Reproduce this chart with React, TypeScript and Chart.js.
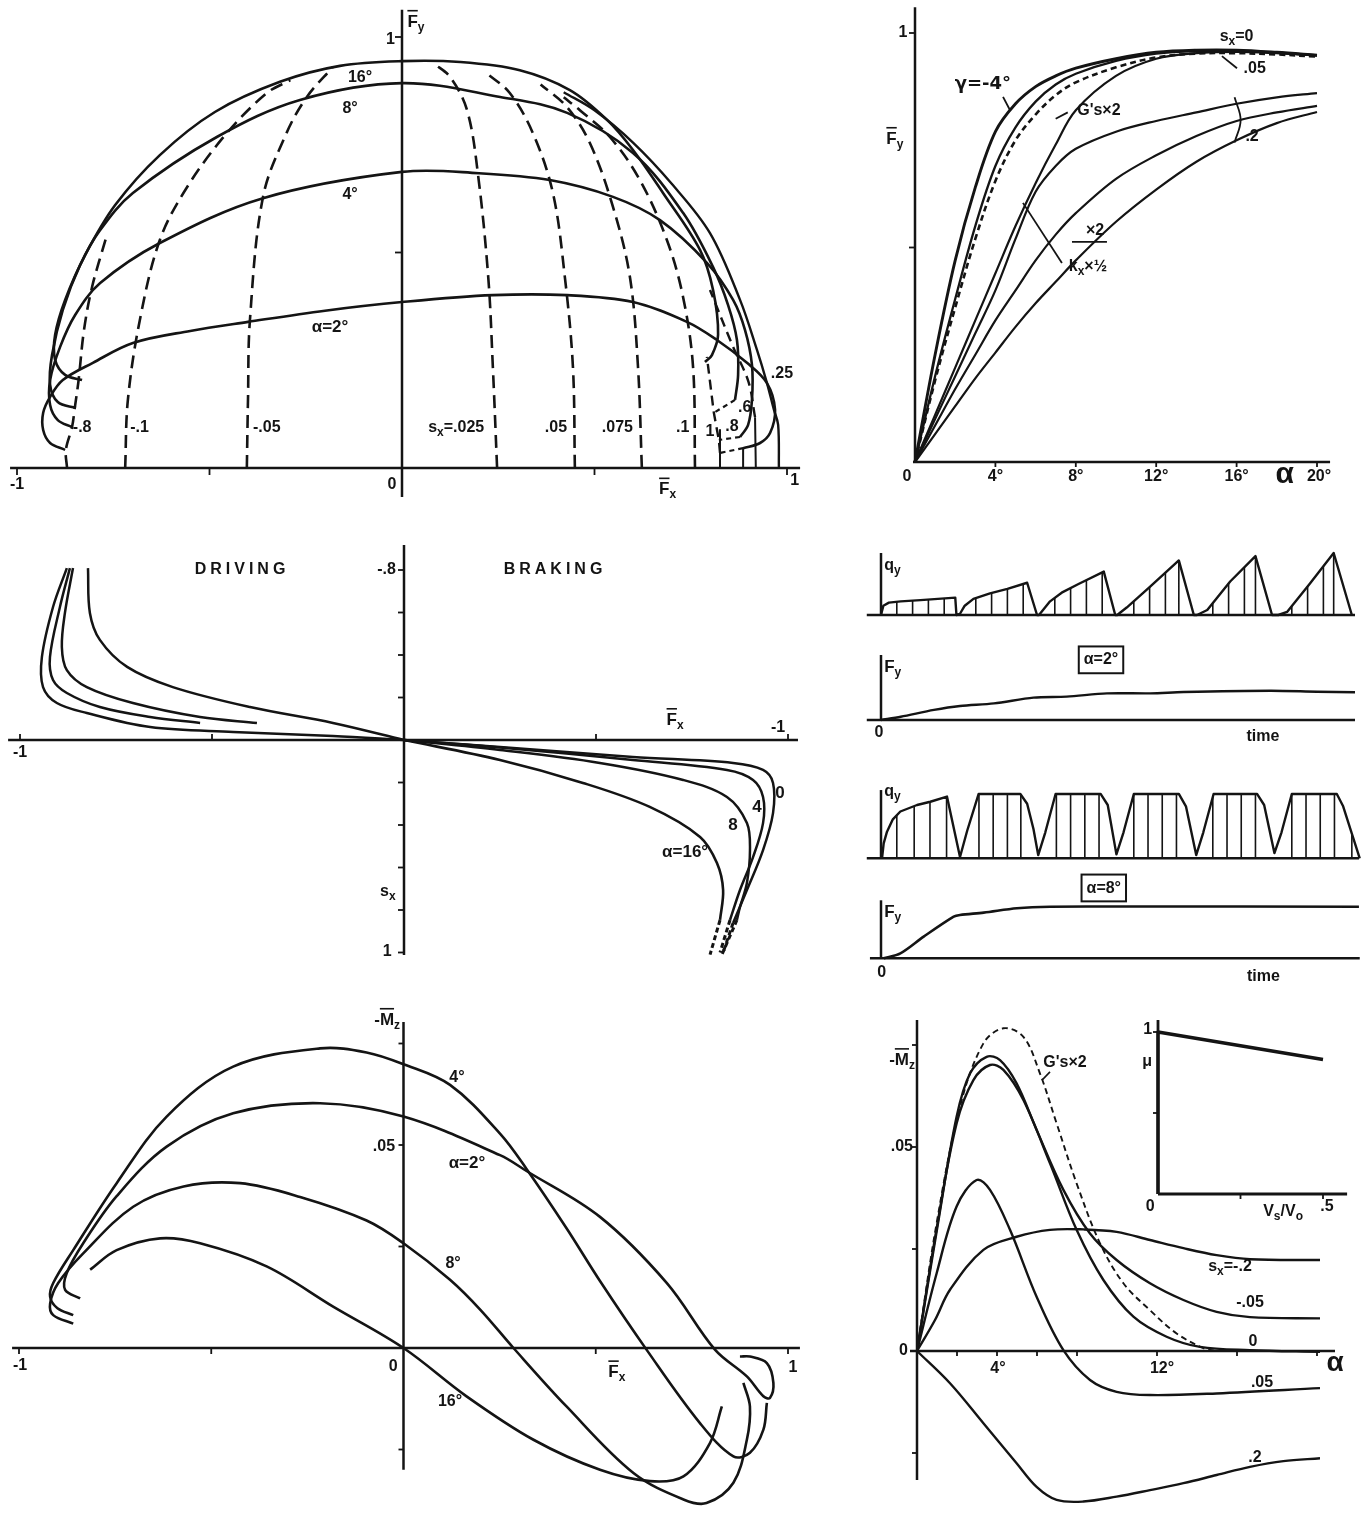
import React, { useEffect, useRef } from "react";
import { Chart, registerables } from "chart.js";

Chart.register(...registerables);

const INK = "#141414";
const FONT = '"Liberation Sans", "DejaVu Sans", Arial, sans-serif';
const GREEK_FONT = '"DejaVu Sans", "Liberation Sans", sans-serif';

type XY = [number, number];
type Pt = { x: number; y: number | null };

// ---------- Fy vs Fx map for constant slip angle (solid) and constant slip (dashed) ----------
const mapAlpha16: XY[] = [[-0.831, 0.204], [-0.875, 0.216], [-0.901, 0.251], [-0.901, 0.309], [-0.875, 0.39], [-0.823, 0.494], [-0.745, 0.61], [-0.629, 0.726], [-0.486, 0.826], [-0.317, 0.896], [-0.161, 0.933], [0, 0.944], [0.151, 0.942], [0.306, 0.923], [0.436, 0.877], [0.53, 0.81], [0.6, 0.738], [0.678, 0.638], [0.774, 0.506], [0.808, 0.413], [0.821, 0.309], [0.805, 0.262], [0.787, 0.246]];
const mapAlpha8: XY[] = [[-0.847, 0.139], [-0.894, 0.153], [-0.914, 0.193], [-0.909, 0.262], [-0.881, 0.367], [-0.836, 0.471], [-0.784, 0.552], [-0.699, 0.638], [-0.481, 0.768], [-0.265, 0.854], [0, 0.893], [0.255, 0.861], [0.429, 0.824], [0.6, 0.731], [0.73, 0.592], [0.808, 0.466], [0.847, 0.378], [0.87, 0.297], [0.873, 0.216], [0.865, 0.158]];
const mapAlpha4: XY[] = [[-0.857, 0.095], [-0.894, 0.111], [-0.914, 0.146], [-0.914, 0.204], [-0.888, 0.281], [-0.849, 0.355], [-0.784, 0.429], [-0.629, 0.522], [-0.361, 0.626], [0, 0.687], [0.2, 0.684], [0.384, 0.668], [0.548, 0.629], [0.67, 0.575], [0.792, 0.476], [0.86, 0.39], [0.891, 0.32], [0.909, 0.239], [0.909, 0.158], [0.899, 0.1], [0.878, 0.072]];
const mapAlpha2: XY[] = [[-0.875, 0.042], [-0.914, 0.058], [-0.932, 0.088], [-0.932, 0.128], [-0.914, 0.165], [-0.881, 0.204], [-0.803, 0.244], [-0.699, 0.29], [-0.55, 0.318], [-0.4, 0.339], [-0.2, 0.365], [0, 0.385], [0.236, 0.401], [0.429, 0.401], [0.6, 0.385], [0.74, 0.339], [0.818, 0.297], [0.896, 0.244], [0.948, 0.197], [0.969, 0.135], [0.956, 0.081], [0.93, 0.058], [0.886, 0.046]];
const mapSlipPeak: XY[] = [[0.979, 0], [0.977, 0.1], [0.966, 0.135], [0.948, 0.197], [0.922, 0.274], [0.878, 0.39], [0.8, 0.545], [0.7, 0.66], [0.6, 0.755], [0.5, 0.83], [0.42, 0.872]];
const mapSlipM08: XY[] = [[-0.87, 0], [-0.873, 0.042], [-0.857, 0.095], [-0.85, 0.139], [-0.84, 0.204], [-0.826, 0.32], [-0.805, 0.42], [-0.77, 0.53]];
const mapSlipM01: XY[] = [[-0.719, 0], [-0.712, 0.158], [-0.681, 0.343], [-0.629, 0.529], [-0.558, 0.652], [-0.455, 0.777], [-0.351, 0.87], [-0.29, 0.9]];
const mapSlipM005: XY[] = [[-0.403, 0], [-0.4, 0.16], [-0.395, 0.343], [-0.361, 0.629], [-0.3, 0.777], [-0.247, 0.861], [-0.18, 0.93]];
const mapSlip0025: XY[] = [[0.247, 0], [0.236, 0.234], [0.224, 0.443], [0.197, 0.684], [0.169, 0.83], [0.125, 0.907], [0.08, 0.94]];
const mapSlip005: XY[] = [[0.449, 0], [0.444, 0.234], [0.423, 0.443], [0.392, 0.638], [0.34, 0.777], [0.28, 0.87], [0.22, 0.916]];
const mapSlip0075: XY[] = [[0.623, 0], [0.613, 0.234], [0.592, 0.443], [0.548, 0.606], [0.488, 0.754], [0.428, 0.838], [0.36, 0.89]];
const mapSlip01: XY[] = [[0.761, 0], [0.756, 0.234], [0.73, 0.397], [0.688, 0.529], [0.618, 0.668], [0.54, 0.768], [0.462, 0.83], [0.42, 0.86]];
const mapSlip06Base: XY[] = [[0.919, 0], [0.917, 0.118]];
const mapSlip06: XY[] = [[0.917, 0.118], [0.9, 0.2], [0.86, 0.281], [0.8, 0.413]];
const mapSlip08Base: XY[] = [[0.886, 0], [0.886, 0.046]];
const mapSlip1Base: XY[] = [[0.826, 0], [0.826, 0.09]];
const mapSlip1: XY[] = [[0.826, 0.035], [0.823, 0.065], [0.81, 0.128], [0.792, 0.258]];
const mapLockExt2: XY[] = [[0.886, 0.046], [0.826, 0.035]];
const mapLockExt4: XY[] = [[0.878, 0.072], [0.823, 0.065]];
const mapLockExt8: XY[] = [[0.865, 0.158], [0.81, 0.128]];

// ---------- Fy vs slip angle ----------
const alphaDeg = [0, 1, 2, 3, 4, 5, 6, 7, 8, 10, 12, 14, 16, 18, 20];
const fyCamberNeg4 = [0, 0.25, 0.47, 0.64, 0.77, 0.835, 0.875, 0.9, 0.918, 0.94, 0.955, 0.96, 0.96, 0.955, 0.948];
const fySlip0 = [0, 0.2, 0.38, 0.55, 0.69, 0.78, 0.84, 0.88, 0.905, 0.935, 0.952, 0.958, 0.958, 0.954, 0.948];
const fySlip005 = [0, 0.19, 0.36, 0.52, 0.655, 0.75, 0.81, 0.855, 0.885, 0.92, 0.943, 0.952, 0.953, 0.95, 0.945];
const fyStiffDouble = [0, 0.11, 0.22, 0.33, 0.44, 0.55, 0.65, 0.74, 0.82, 0.9, 0.94, 0.953, 0.956, 0.953, 0.948];
const fySlip02KxHalf = [0, 0.1, 0.2, 0.3, 0.4, 0.52, 0.63, 0.69, 0.73, 0.77, 0.795, 0.815, 0.835, 0.85, 0.86];
const fySlip02KxDouble = [0, 0.085, 0.17, 0.25, 0.33, 0.4, 0.47, 0.53, 0.58, 0.66, 0.715, 0.76, 0.795, 0.815, 0.83];
const fySlip02 = [0, 0.065, 0.13, 0.195, 0.255, 0.315, 0.37, 0.42, 0.47, 0.56, 0.635, 0.7, 0.75, 0.79, 0.816];
const fyLeaderCamber: XY[] = [[4.38, 0.851], [4.73, 0.82]];
const fyLeaderStiff: XY[] = [[7.0, 0.8], [7.6, 0.815]];
const fyLeaderKxHalf: XY[] = [[5.37, 0.604], [7.31, 0.464]];
const fyLeaderKxDouble: XY[] = [[7.81, 0.513], [9.55, 0.513]];
const fyLeaderSlip005: XY[] = [[15.27, 0.946], [16.02, 0.918]];
const fyBracketSlip02: XY[] = [[15.9, 0.85], [16.2, 0.797], [15.9, 0.745]];

// ---------- slip vs Fx, driving and braking ----------
const driveOuter: XY[] = [[-0.878, -0.809], [-0.914, -0.626], [-0.943, -0.39], [-0.94, -0.249], [-0.904, -0.174], [-0.826, -0.127], [-0.661, -0.061], [-0.445, -0.038], [-0.185, -0.019], [0, 0]];
const driveSecond: XY[] = [[-0.87, -0.809], [-0.896, -0.626], [-0.922, -0.39], [-0.914, -0.282], [-0.878, -0.221], [-0.792, -0.155], [-0.661, -0.108], [-0.531, -0.08]];
const driveThird: XY[] = [[-0.862, -0.809], [-0.883, -0.598], [-0.891, -0.438], [-0.878, -0.329], [-0.826, -0.249], [-0.706, -0.174], [-0.531, -0.108], [-0.383, -0.08]];
const driveInner: XY[] = [[-0.823, -0.809], [-0.818, -0.598], [-0.792, -0.471], [-0.721, -0.344], [-0.602, -0.249], [-0.401, -0.155], [-0.185, -0.08], [0, 0]];
const brakeAlpha0: XY[] = [[0, 0], [0.25, 0.033], [0.596, 0.08], [0.857, 0.108], [0.935, 0.141], [0.961, 0.202], [0.961, 0.344], [0.935, 0.518], [0.893, 0.706], [0.857, 0.861]];
const brakeAlpha4: XY[] = [[0, 0], [0.25, 0.035], [0.596, 0.094], [0.841, 0.141], [0.909, 0.188], [0.935, 0.268], [0.935, 0.391], [0.909, 0.551], [0.875, 0.706], [0.849, 0.847]];
const brakeAlpha8: XY[] = [[0, 0], [0.25, 0.047], [0.51, 0.108], [0.727, 0.188], [0.841, 0.268], [0.893, 0.391], [0.901, 0.518], [0.893, 0.673], [0.875, 0.786], [0.867, 0.847]];
const brakeAlpha16: XY[] = [[0, 0], [0.25, 0.094], [0.466, 0.202], [0.64, 0.315], [0.771, 0.456], [0.815, 0.579], [0.831, 0.706], [0.823, 0.847]];
const brakeTail0: XY[] = [[0.857, 0.861], [0.831, 1.0]];
const brakeTail4: XY[] = [[0.849, 0.847], [0.823, 1.0]];
const brakeTail8: XY[] = [[0.867, 0.847], [0.828, 1.01]];
const brakeTail16: XY[] = [[0.823, 0.847], [0.797, 1.01]];

// ---------- contact-patch load qy and lateral force build-up over time ----------
const q2Time = [0, 0.03, 0.1, 0.25, 0.5, 0.94, 0.955, 1.0, 1.06, 1.17, 1.38, 1.6, 1.85, 1.975, 2.0, 2.14, 2.3, 2.5, 2.82, 2.965, 2.99, 3.11, 3.4, 3.77, 3.96, 4.0, 4.13, 4.42, 4.74, 4.95, 5.03, 5.14, 5.43, 5.73, 5.96];
const q2Load = [0, 0.15, 0.2, 0.22, 0.24, 0.28, 0, 0.02, 0.15, 0.26, 0.35, 0.42, 0.52, 0, 0, 0.22, 0.37, 0.5, 0.7, 0, 0, 0.12, 0.45, 0.88, 0, 0, 0.08, 0.54, 0.95, 0, 0, 0.05, 0.51, 1.0, 0];
const q2Rulings = [0.2, 0.4, 0.6, 0.8, 1.2, 1.4, 1.6, 1.8, 2.2, 2.4, 2.6, 2.8, 3.2, 3.4, 3.6, 3.77, 4.2, 4.4, 4.6, 4.74, 5.2, 5.4, 5.6, 5.73];
const fy2Time = [0, 0.25, 0.67, 1.0, 1.43, 1.93, 2.35, 2.86, 3.41, 3.83, 4.93, 5.52, 6.0];
const fy2Force = [0, 0.05, 0.155, 0.215, 0.255, 0.345, 0.36, 0.41, 0.41, 0.43, 0.45, 0.435, 0.427];
const q8Time = [0.013, 0.034, 0.076, 0.15, 0.245, 0.456, 0.624, 0.835, 1.0, 1.09, 1.236, 1.764, 1.85, 1.93, 1.99, 2.08, 2.21, 2.78, 2.87, 2.98, 3.07, 3.2, 3.77, 3.86, 3.99, 4.08, 4.21, 4.76, 4.85, 4.98, 5.07, 5.2, 5.77, 5.85, 6.06];
const q8Load = [0, 0.23, 0.41, 0.6, 0.72, 0.82, 0.87, 0.95, 0.02, 0.42, 0.99, 0.99, 0.84, 0.45, 0.05, 0.4, 0.99, 0.99, 0.82, 0.06, 0.4, 0.99, 0.99, 0.8, 0.05, 0.4, 0.99, 0.99, 0.82, 0.08, 0.4, 0.99, 0.99, 0.8, 0];
const q8Rulings = [0.2, 0.42, 0.62, 0.83, 1.24, 1.42, 1.6, 1.77, 2.22, 2.4, 2.58, 2.76, 3.2, 3.38, 3.56, 3.74, 4.2, 4.38, 4.56, 4.74, 5.2, 5.38, 5.56, 5.74, 5.96];
const fy8Time = [0.034, 0.245, 0.54, 0.92, 1.0, 1.3, 1.72, 2.14, 3.0, 6.05];
const fy8Force = [0, 0.086, 0.374, 0.718, 0.747, 0.787, 0.862, 0.89, 0.893, 0.89];

// ---------- aligning moment vs Fx ----------
const mzAlpha4: XY[] = [[-0.859, 0.0081], [-0.9, 0.0098], [-0.919, 0.0126], [-0.911, 0.016], [-0.859, 0.0241], [-0.746, 0.0406], [-0.616, 0.057], [-0.443, 0.0693], [-0.217, 0.0738], [-0.096, 0.0728], [0, 0.0699], [0.121, 0.0648], [0.251, 0.0528], [0.32, 0.0441], [0.424, 0.0295], [0.511, 0.0165], [0.632, -0.0004], [0.771, -0.0185], [0.858, -0.0267], [0.901, -0.0258], [0.936, -0.0201], [0.945, -0.0135]];
const mzAlpha2: XY[] = [[-0.841, 0.0122], [-0.88, 0.0143], [-0.876, 0.0184], [-0.833, 0.0258], [-0.746, 0.0374], [-0.616, 0.0496], [-0.443, 0.0578], [-0.217, 0.0603], [0, 0.057], [0.251, 0.0475], [0.32, 0.0436], [0.511, 0.0323], [0.685, 0.016], [0.81, -0.0004], [0.893, -0.007], [0.936, -0.0119], [0.953, -0.0123], [0.962, -0.0086], [0.945, -0.0037], [0.901, -0.0021], [0.875, -0.0021]];
const mzAlpha8: XY[] = [[-0.859, 0.006], [-0.911, 0.0081], [-0.919, 0.011], [-0.898, 0.016], [-0.833, 0.0233], [-0.703, 0.0348], [-0.572, 0.0398], [-0.425, 0.0406], [-0.269, 0.0372], [-0.096, 0.0314], [0, 0.0258], [0.121, 0.0168], [0.2, 0.0094], [0.286, 0], [0.424, -0.0144], [0.598, -0.0308], [0.728, -0.0373], [0.788, -0.0382], [0.858, -0.0332], [0.893, -0.0226], [0.901, -0.0144], [0.884, -0.0086]];
const mzAlpha16: XY[] = [[-0.815, 0.0193], [-0.746, 0.0241], [-0.633, 0.027], [-0.529, 0.0258], [-0.356, 0.0201], [-0.183, 0.0102], [0, 0], [0.164, -0.0119], [0.338, -0.0226], [0.511, -0.03], [0.641, -0.0328], [0.728, -0.0316], [0.797, -0.0234], [0.828, -0.0144]];

// ---------- aligning moment vs slip angle ----------
const mzStiffDouble: XY[] = [[0, 0], [0.98, 0.0313], [2.15, 0.0599], [3.32, 0.0754], [4.32, 0.0791], [5.32, 0.077], [6.15, 0.068], [6.98, 0.0558], [7.98, 0.0411], [9.15, 0.0264], [10.32, 0.0166], [11.65, 0.01], [12.98, 0.0043], [14.32, 0.0007], [14.98, 0]];
const mzSlipM005: XY[] = [[0, 0], [1.05, 0.0313], [1.98, 0.0574], [2.65, 0.068], [3.48, 0.0721], [4.15, 0.0713], [4.98, 0.0656], [5.98, 0.0542], [7.32, 0.0395], [8.65, 0.0288], [9.98, 0.0223], [11.65, 0.0166], [13.32, 0.0125], [14.98, 0.0096], [16.65, 0.0083], [20.15, 0.008]];
const mzSlip0: XY[] = [[0, 0], [1.0, 0.0305], [1.98, 0.0558], [2.82, 0.0664], [3.65, 0.0701], [4.32, 0.0689], [5.32, 0.0615], [6.65, 0.046], [7.98, 0.0297], [9.32, 0.0174], [10.82, 0.0084], [12.48, 0.0035], [14.15, 0.001], [16.65, 0.0002], [20.15, -0.0002]];
const mzSlipM02: XY[] = [[0, 0], [0.9, 0.0076], [1.65, 0.015], [3.32, 0.0248], [4.98, 0.028], [6.65, 0.0297], [8.32, 0.0298], [9.98, 0.0292], [11.65, 0.0272], [13.32, 0.0252], [14.98, 0.0235], [16.65, 0.0225], [20.15, 0.0223]];
const mzSlip005: XY[] = [[0, 0], [0.98, 0.019], [1.98, 0.0354], [2.98, 0.0419], [3.65, 0.0395], [4.65, 0.0297], [5.98, 0.0133], [7.32, 0.0002], [8.65, -0.0071], [9.98, -0.01], [11.65, -0.0108], [14.98, -0.0104], [20.15, -0.0091]];
const mzSlip02: XY[] = [[0, 0], [1.65, -0.0079], [3.32, -0.0177], [4.98, -0.0275], [5.98, -0.0333], [6.98, -0.0365], [8.32, -0.0369], [9.98, -0.0357], [11.65, -0.0341], [13.32, -0.0324], [14.98, -0.0304], [16.65, -0.0284], [18.32, -0.027], [20.15, -0.0263]];
const mzLeaderStiff: XY[] = [[6.25, 0.0664], [6.65, 0.0684]];

// ---------- friction coefficient vs sliding speed ratio ----------
const slideRatio = [0, 0, 0.5];
const frictionMu = [0, 1, 0.83];

// ---------- drawing helpers ----------
type Series = { data: Pt[]; width?: number; dash?: number[]; tension?: number };
type AxisLine = { dir: "x" | "y"; at: number; from: number; to: number; width?: number; ticks?: number[]; tickLen?: number; tickSide?: number };
type TextMark = { text: string; x: number; y: number; align?: "left" | "center" | "right"; size?: number; box?: boolean; spacing?: number; family?: string };
type PanelSpec = {
  box: [number, number, number, number];
  area: [number, number, number, number];
  x: [number, number];
  y: [number, number];
  reverseY?: boolean;
  series: Series[];
  axes: AxisLine[];
  texts: TextMark[];
};

const pts = (arr: XY[]): Pt[] => arr.map(([x, y]) => ({ x, y }));
const zip = (xs: number[], ys: number[]): Pt[] => xs.map((x, i) => ({ x, y: ys[i] }));

// vertical rulings from the base line up to the load curve
function rulings(at: number[], xs: number[], ys: number[]): Pt[] {
  const out: Pt[] = [];
  for (const t of at) {
    let h = 0;
    for (let i = 0; i < xs.length - 1; i++) {
      if (t >= xs[i] && t <= xs[i + 1]) {
        const span = xs[i + 1] - xs[i];
        const f = span === 0 ? 0 : (t - xs[i]) / span;
        h = ys[i] + f * (ys[i + 1] - ys[i]);
        break;
      }
    }
    out.push({ x: t, y: 0 }, { x: t, y: h }, { x: t, y: null });
  }
  return out;
}

function drawRich(ctx: CanvasRenderingContext2D, m: TextMark, x: number, y: number) {
  const size = m.size ?? 16;
  const spacing = m.spacing ?? 0;
  const family = m.family ?? FONT;
  const glyphs: { ch: string; sub: boolean; bar: boolean }[] = [];
  let bar = false;
  let sub = false;
  for (const ch of Array.from(m.text)) {
    if (ch === "~") { bar = true; continue; }
    if (ch === "_") { sub = true; continue; }
    glyphs.push({ ch, sub, bar });
    bar = false;
    sub = false;
  }
  const big = `bold ${size}px ${family}`;
  const small = `bold ${Math.round(size * 0.72)}px ${family}`;
  const widths = glyphs.map((g) => {
    ctx.font = g.sub ? small : big;
    return ctx.measureText(g.ch).width;
  });
  const total = widths.reduce((s, w) => s + w, 0) + spacing * Math.max(0, glyphs.length - 1);
  const align = m.align ?? "center";
  let cx = align === "left" ? x : align === "right" ? x - total : x - total / 2;
  const x0 = cx;
  ctx.textAlign = "left";
  ctx.textBaseline = "middle";
  glyphs.forEach((g, i) => {
    ctx.font = g.sub ? small : big;
    ctx.fillText(g.ch, cx, g.sub ? y + size * 0.32 : y);
    if (g.bar) {
      ctx.lineWidth = 1.6;
      ctx.beginPath();
      const top = y - size * 0.66;
      ctx.moveTo(cx, top);
      ctx.lineTo(cx + widths[i], top);
      ctx.stroke();
    }
    cx += widths[i] + spacing;
  });
  if (m.box) {
    ctx.lineWidth = 2;
    ctx.strokeRect(x0 - 5, y - size * 0.66 - 3, total + 10, size * 1.3 + 6);
  }
}

function decorPlugin(spec: PanelSpec) {
  return {
    id: "decor",
    afterDatasetsDraw(chart: Chart) {
      const ctx = chart.ctx;
      const xs = chart.scales.x;
      const ys = chart.scales.y;
      const px = (v: number) => xs.getPixelForValue(v);
      const py = (v: number) => ys.getPixelForValue(v);
      ctx.save();
      ctx.strokeStyle = INK;
      ctx.fillStyle = INK;
      ctx.lineCap = "butt";
      for (const a of spec.axes) {
        ctx.lineWidth = a.width ?? 2.5;
        ctx.beginPath();
        if (a.dir === "x") {
          const yy = py(a.at);
          ctx.moveTo(px(a.from), yy);
          ctx.lineTo(px(a.to), yy);
        } else {
          const xx = px(a.at);
          ctx.moveTo(xx, py(a.from));
          ctx.lineTo(xx, py(a.to));
        }
        ctx.stroke();
        ctx.lineWidth = 1.8;
        for (const t of a.ticks ?? []) {
          const len = (a.tickLen ?? 7) * (a.tickSide ?? 1);
          ctx.beginPath();
          if (a.dir === "x") {
            const yy = py(a.at);
            const xx = px(t);
            ctx.moveTo(xx, yy);
            ctx.lineTo(xx, yy + len);
          } else {
            const xx = px(a.at);
            const yy = py(t);
            ctx.moveTo(xx, yy);
            ctx.lineTo(xx - len, yy);
          }
          ctx.stroke();
        }
      }
      for (const t of spec.texts) drawRich(ctx, t, px(t.x), py(t.y));
      ctx.restore();
    },
  };
}

// ---------- panels ----------
const solid = (d: XY[], width = 2.6, tension = 0.35): Series => ({ data: pts(d), width, tension });
const dashed = (d: XY[], dash: number[], width = 2.6, tension = 0.35): Series => ({ data: pts(d), width, dash, tension });

const mapPanel: PanelSpec = {
  box: [0, 0, 850, 510],
  area: [17, 37, 787, 468],
  x: [-1, 1],
  y: [0, 1],
  series: [
    solid(mapAlpha16), solid(mapAlpha8), solid(mapAlpha4), solid(mapAlpha2), solid(mapSlipPeak, 2.4),
    dashed(mapSlipM08, [13, 7]), dashed(mapSlipM01, [13, 7]), dashed(mapSlipM005, [13, 7]),
    dashed(mapSlip0025, [13, 7]), dashed(mapSlip005, [13, 7]), dashed(mapSlip0075, [13, 7]), dashed(mapSlip01, [13, 7]),
    solid(mapSlip06Base, 2), dashed(mapSlip06, [10, 6], 2.4), solid(mapSlip08Base, 2), solid(mapSlip1Base, 2),
    dashed(mapSlip1, [10, 6], 2.4, 0), dashed(mapLockExt2, [5, 4], 2.2, 0), dashed(mapLockExt4, [5, 4], 2.2, 0), dashed(mapLockExt8, [5, 4], 2.2, 0),
  ],
  axes: [
    { dir: "x", at: 0, from: -1.018, to: 1.034, ticks: [-1, -0.5, 0.5, 1], tickSide: 1 },
    { dir: "y", at: 0, from: -0.067, to: 1.063, ticks: [0.5, 1], tickSide: 1 },
  ],
  texts: [
    { text: "16°", x: -0.109, y: 0.905 },
    { text: "8°", x: -0.135, y: 0.835 },
    { text: "4°", x: -0.135, y: 0.635 },
    { text: "α=2°", x: -0.187, y: 0.327, size: 17 },
    { text: "-.8", x: -0.855, y: 0.093, align: "left" },
    { text: "-.1", x: -0.706, y: 0.093, align: "left" },
    { text: "-.05", x: -0.387, y: 0.093, align: "left" },
    { text: "s_x=.025", x: 0.068, y: 0.093, align: "left" },
    { text: ".05", x: 0.371, y: 0.093, align: "left" },
    { text: ".075", x: 0.519, y: 0.093, align: "left" },
    { text: ".1", x: 0.712, y: 0.093, align: "left" },
    { text: "1", x: 0.8, y: 0.084 },
    { text: ".8", x: 0.857, y: 0.095 },
    { text: ".6", x: 0.89, y: 0.139 },
    { text: ".25", x: 0.958, y: 0.22, align: "left" },
    { text: "-1", x: -1, y: -0.038 },
    { text: "0", x: -0.026, y: -0.038 },
    { text: "1", x: 1.02, y: -0.03 },
    { text: "~F_x", x: 0.69, y: -0.05, size: 17 },
    { text: "~F_y", x: 0.014, y: 1.035, align: "left", size: 17 },
    { text: "1", x: -0.03, y: 0.995 },
  ],
};

const fyAlphaPanel: PanelSpec = {
  box: [850, 0, 516, 500],
  area: [915, 33, 1317, 462],
  x: [0, 20],
  y: [0, 1],
  series: [
    { data: zip(alphaDeg, fyCamberNeg4), width: 2.9, tension: 0.35 },
    { data: zip(alphaDeg, fySlip0), width: 2.3, tension: 0.35 },
    { data: zip(alphaDeg, fySlip005), width: 2.6, dash: [6, 4], tension: 0.35 },
    { data: zip(alphaDeg, fyStiffDouble), width: 2.2, tension: 0.35 },
    { data: zip(alphaDeg, fySlip02KxHalf), width: 2.2, tension: 0.35 },
    { data: zip(alphaDeg, fySlip02KxDouble), width: 2.2, tension: 0.35 },
    { data: zip(alphaDeg, fySlip02), width: 2.2, tension: 0.35 },
    solid(fyLeaderCamber, 1.8, 0), solid(fyLeaderStiff, 1.8, 0), solid(fyLeaderKxHalf, 1.8, 0),
    solid(fyLeaderKxDouble, 1.8, 0), solid(fyLeaderSlip005, 1.8, 0), solid(fyBracketSlip02, 1.8, 0.4),
  ],
  axes: [
    { dir: "x", at: 0, from: -0.1, to: 20.65, ticks: [4, 8, 12, 16, 20], tickSide: 1, tickLen: 5 },
    { dir: "y", at: 0, from: 0, to: 1.06, ticks: [0.5, 1], tickSide: 1, tickLen: 6 },
  ],
  texts: [
    { text: "s_x=0", x: 16.0, y: 0.991 },
    { text: ".05", x: 16.9, y: 0.918 },
    { text: "γ=-4°", x: 3.38, y: 0.881, size: 18, family: GREEK_FONT },
    { text: "G's×2", x: 9.15, y: 0.818 },
    { text: "k_x×½", x: 8.6, y: 0.455 },
    { text: "×2", x: 8.96, y: 0.54 },
    { text: ".2", x: 16.77, y: 0.758 },
    { text: "~F_y", x: -1.0, y: 0.753, size: 17 },
    { text: "1", x: -0.6, y: 1.0 },
    { text: "0", x: -0.4, y: -0.035 },
    { text: "4°", x: 4, y: -0.035 },
    { text: "8°", x: 8, y: -0.035 },
    { text: "12°", x: 12, y: -0.035 },
    { text: "16°", x: 16, y: -0.035 },
    { text: "20°", x: 20.1, y: -0.035 },
    { text: "α", x: 18.4, y: -0.03, size: 30 },
  ],
};

const slipPanel: PanelSpec = {
  box: [0, 520, 850, 470],
  area: [20, 570, 788, 952.5],
  x: [-1, 1],
  y: [-0.8, 1],
  reverseY: true,
  series: [
    solid(driveOuter, 2.5), solid(driveSecond, 2.5), solid(driveThird, 2.5), solid(driveInner, 2.5),
    solid(brakeAlpha0, 2.5), solid(brakeAlpha4, 2.5), solid(brakeAlpha8, 2.5), solid(brakeAlpha16, 2.6),
    dashed(brakeTail0, [5, 3], 3, 0), dashed(brakeTail4, [5, 3], 3, 0), dashed(brakeTail8, [5, 3], 3, 0), dashed(brakeTail16, [5, 3], 3, 0),
  ],
  axes: [
    { dir: "x", at: 0, from: -1.031, to: 1.026, ticks: [-1, -0.5, 0.5, 1], tickSide: -1, tickLen: 6 },
    { dir: "y", at: 0, from: -0.918, to: 1.012, ticks: [-0.8, -0.6, -0.4, -0.2, 0.2, 0.4, 0.6, 0.8, 1], tickSide: 1, tickLen: 6 },
  ],
  texts: [
    { text: "DRIVING", x: -0.427, y: -0.8, spacing: 4 },
    { text: "BRAKING", x: 0.388, y: -0.8, spacing: 4 },
    { text: "-.8", x: -0.021, y: -0.8, align: "right" },
    { text: "s_x", x: -0.042, y: 0.715 },
    { text: "1", x: -0.044, y: 0.998 },
    { text: "-1", x: -1.0, y: 0.06 },
    { text: "~F_x", x: 0.706, y: -0.094, size: 17 },
    { text: "-1", x: 0.974, y: -0.06 },
    { text: "0", x: 0.979, y: 0.249, size: 17 },
    { text: "4", x: 0.919, y: 0.315, size: 17 },
    { text: "8", x: 0.857, y: 0.4, size: 17 },
    { text: "α=16°", x: 0.732, y: 0.527, size: 17 },
  ],
};

const timeArea = (top: number, bottom: number): [number, number, number, number] => [881, top, 1355, bottom];

const load2Panel: PanelSpec = {
  box: [850, 540, 516, 85],
  area: timeArea(553, 615),
  x: [0, 6],
  y: [0, 1],
  series: [
    { data: zip(q2Time, q2Load), width: 2.4, tension: 0 },
    { data: rulings(q2Rulings, q2Time, q2Load), width: 1.6, tension: 0 },
  ],
  axes: [
    { dir: "x", at: 0, from: -0.18, to: 6.0 },
    { dir: "y", at: 0, from: 0, to: 1.0 },
  ],
  texts: [{ text: "q_y", x: 0.04, y: 0.8, align: "left" }],
};

const force2Panel: PanelSpec = {
  box: [850, 625, 516, 125],
  area: timeArea(655, 720),
  x: [0, 6],
  y: [0, 1],
  series: [{ data: zip(fy2Time, fy2Force), width: 2.4, tension: 0.3 }],
  axes: [
    { dir: "x", at: 0, from: -0.18, to: 6.0 },
    { dir: "y", at: 0, from: 0, to: 1.0 },
  ],
  texts: [
    { text: "F_y", x: 0.04, y: 0.815, align: "left", size: 17 },
    { text: "α=2°", x: 2.785, y: 0.923, box: true },
    { text: "0", x: -0.025, y: -0.2 },
    { text: "time", x: 4.835, y: -0.26 },
  ],
};

const load8Panel: PanelSpec = {
  box: [850, 760, 516, 105],
  area: timeArea(793.3, 858.3),
  x: [0, 6],
  y: [0, 1],
  series: [
    { data: zip(q8Time, q8Load), width: 2.4, tension: 0 },
    { data: rulings(q8Rulings, q8Time, q8Load), width: 1.6, tension: 0 },
  ],
  axes: [
    { dir: "x", at: 0, from: -0.18, to: 6.05 },
    { dir: "y", at: 0, from: 0, to: 1.05 },
  ],
  texts: [{ text: "q_y", x: 0.04, y: 1.03, align: "left" }],
};

const force8Panel: PanelSpec = {
  box: [850, 865, 516, 125],
  area: timeArea(900.3, 958.3),
  x: [0, 6],
  y: [0, 1],
  series: [{ data: zip(fy8Time, fy8Force), width: 2.6, tension: 0.3 }],
  axes: [
    { dir: "x", at: 0, from: -0.14, to: 6.06 },
    { dir: "y", at: 0, from: 0, to: 1.0 },
  ],
  texts: [
    { text: "F_y", x: 0.04, y: 0.8, align: "left", size: 17 },
    { text: "α=8°", x: 2.82, y: 1.21, box: true },
    { text: "0", x: 0.01, y: -0.25 },
    { text: "time", x: 4.84, y: -0.32 },
  ],
};

const mzFxPanel: PanelSpec = {
  box: [0, 990, 850, 547],
  area: [19, 1023.2, 788, 1510.4],
  x: [-1, 1],
  y: [-0.04, 0.08],
  series: [solid(mzAlpha4), solid(mzAlpha2), solid(mzAlpha8), solid(mzAlpha16)],
  axes: [
    { dir: "x", at: 0, from: -1.018, to: 1.031, ticks: [-1, -0.5, 0.5, 1], tickSide: 1, tickLen: 6 },
    { dir: "y", at: 0, from: -0.03, to: 0.0803, ticks: [-0.025, 0.025, 0.05, 0.075], tickSide: 1, tickLen: 5 },
  ],
  texts: [
    { text: "-~M_z", x: -0.009, y: 0.0808, align: "right", size: 17 },
    { text: ".05", x: -0.022, y: 0.0495, align: "right" },
    { text: "0", x: -0.027, y: -0.0047 },
    { text: "-1", x: -0.997, y: -0.0044 },
    { text: "1", x: 1.013, y: -0.0049 },
    { text: "~F_x", x: 0.555, y: -0.006, size: 17 },
    { text: "4°", x: 0.139, y: 0.0667 },
    { text: "α=2°", x: 0.165, y: 0.0456, size: 17 },
    { text: "8°", x: 0.129, y: 0.0209 },
    { text: "16°", x: 0.121, y: -0.0133 },
  ],
};

const mzAlphaPanel: PanelSpec = {
  box: [850, 990, 516, 547],
  area: [917, 1024.6, 1317, 1514.2],
  x: [0, 20],
  y: [-0.04, 0.08],
  series: [
    dashed(mzStiffDouble, [6, 4], 1.9),
    solid(mzSlipM005, 2.4), solid(mzSlip0, 2.4), solid(mzSlipM02, 2.4), solid(mzSlip005, 2.4), solid(mzSlip02, 2.4),
    solid(mzLeaderStiff, 1.6, 0),
  ],
  axes: [
    { dir: "x", at: 0, from: -0.35, to: 20.9, ticks: [2, 4, 6, 8, 12, 16, 20], tickSide: 1, tickLen: 5 },
    { dir: "y", at: 0, from: -0.0316, to: 0.0811, ticks: [-0.025, 0.025, 0.05, 0.075], tickSide: 1, tickLen: 5 },
  ],
  texts: [
    { text: "-~M_z", x: -0.1, y: 0.0713, align: "right", size: 17 },
    { text: ".05", x: -0.2, y: 0.05, align: "right" },
    { text: "0", x: -0.45, y: 0, align: "right" },
    { text: "4°", x: 4.05, y: -0.0042 },
    { text: "12°", x: 12.25, y: -0.0042 },
    { text: "α", x: 20.9, y: -0.003, size: 28 },
    { text: "G's×2", x: 7.4, y: 0.0706 },
    { text: "s_x=-.2", x: 15.65, y: 0.0206 },
    { text: "-.05", x: 16.65, y: 0.0118 },
    { text: "0", x: 16.8, y: 0.0022 },
    { text: ".05", x: 17.25, y: -0.0078 },
    { text: ".2", x: 16.9, y: -0.0262 },
  ],
};

const frictionPanel: PanelSpec = {
  box: [1110, 1000, 256, 230],
  area: [1158, 1032, 1323, 1194],
  x: [0, 0.5],
  y: [0, 1],
  series: [{ data: zip(slideRatio, frictionMu), width: 3.4, tension: 0 }],
  axes: [
    { dir: "x", at: 0, from: 0, to: 0.573, ticks: [0.25, 0.5], tickSide: 1, tickLen: 5, width: 2.8 },
    { dir: "y", at: 0, from: 0, to: 1.074, ticks: [0.5, 1], tickSide: 1, tickLen: 5, width: 2.8 },
  ],
  texts: [
    { text: "1", x: -0.018, y: 1.012, align: "right" },
    { text: "μ", x: -0.018, y: 0.815, align: "right" },
    { text: "0", x: -0.024, y: -0.08 },
    { text: ".5", x: 0.512, y: -0.08 },
    { text: "V_s/V_o", x: 0.379, y: -0.111 },
  ],
};

const PANELS: PanelSpec[] = [mapPanel, fyAlphaPanel, slipPanel, load2Panel, force2Panel, load8Panel, force8Panel, mzFxPanel, mzAlphaPanel, frictionPanel];

function Panel({ spec }: { spec: PanelSpec }) {
  const ref = useRef<HTMLCanvasElement>(null);
  useEffect(() => {
    const canvas = ref.current;
    if (!canvas) return;
    const [bx, by, bw, bh] = spec.box;
    const [l, t, r, b] = spec.area;
    const chart = new Chart(canvas, {
      type: "scatter",
      data: {
        datasets: spec.series.map((s) => ({
          data: s.data as any,
          showLine: true,
          borderColor: INK,
          backgroundColor: INK,
          borderWidth: s.width ?? 2.4,
          borderDash: s.dash ?? [],
          tension: s.tension ?? 0.35,
          pointRadius: 0,
          pointHoverRadius: 0,
          fill: false,
          spanGaps: false,
          clip: false as any,
          borderCapStyle: "butt" as const,
          borderJoinStyle: "round" as const,
        })),
      },
      options: {
        animation: false,
        responsive: false,
        maintainAspectRatio: false,
        events: [],
        layout: { padding: { left: l - bx, top: t - by, right: bx + bw - r, bottom: by + bh - b } },
        scales: {
          x: { type: "linear", display: false, min: spec.x[0], max: spec.x[1], bounds: "data" },
          y: { type: "linear", display: false, min: spec.y[0], max: spec.y[1], reverse: !!spec.reverseY, bounds: "data" },
        },
        plugins: { legend: { display: false }, tooltip: { enabled: false }, title: { display: false } },
      },
      plugins: [decorPlugin(spec) as any],
    });
    return () => chart.destroy();
  }, [spec]);
  const [bx, by, bw, bh] = spec.box;
  return (
    <canvas
      ref={ref}
      width={bw}
      height={bh}
      style={{ position: "absolute", left: bx, top: by, width: bw, height: bh }}
    />
  );
}

export default function App() {
  return (
    <div style={{ position: "absolute", left: 0, top: 0, width: 1366, height: 1537, background: "#ffffff", overflow: "hidden" }}>
      {PANELS.map((p, i) => (
        <Panel key={i} spec={p} />
      ))}
    </div>
  );
}
